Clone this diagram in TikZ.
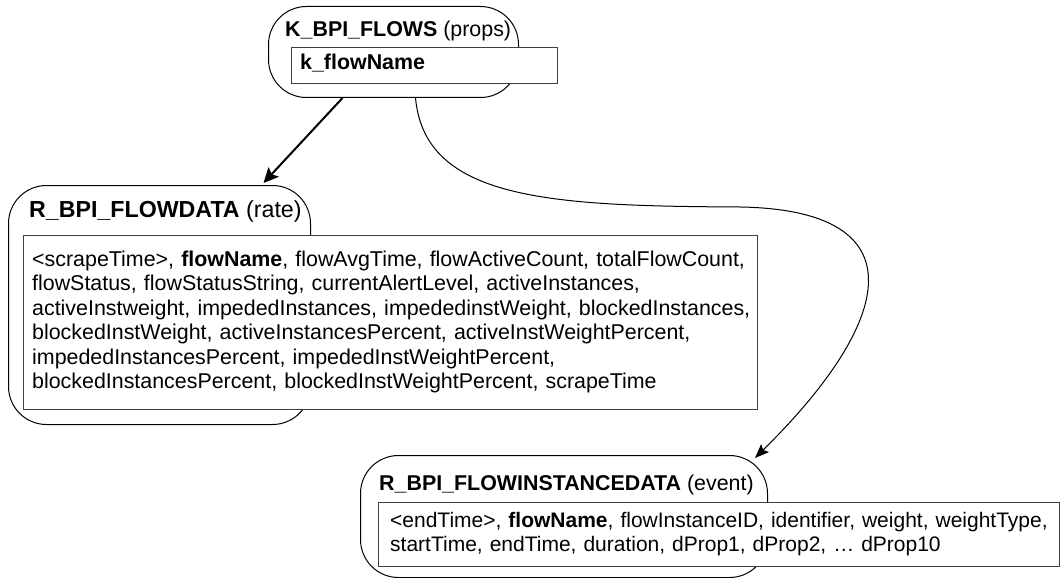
\documentclass[tikz,border=0pt]{standalone}
\usepackage{fontspec}
\setmainfont{Liberation Sans}
\usetikzlibrary{arrows.meta}
\begin{document}
\begin{tikzpicture}[x=1pt, y=-1pt,
  every node/.append style={font=\fontsize{21.4pt}{24.5pt}\selectfont},
  shell/.style={draw=black, line width=1pt, fill=white, rounded corners=38pt,
                inner sep=0pt, anchor=north west},
  fieldbox/.style={draw=black!75, line width=1pt, fill=white, inner sep=0pt,
                   anchor=north west},
  title/.style={anchor=base west, inner sep=0pt},
  bigtitle/.style={title, font=\fontsize{23.2pt}{26pt}\selectfont},
  fields/.style={anchor=base west, inner sep=0pt, align=left, text width=#1},
  link/.style={line width=1pt, -{Stealth[length=14pt,width=11pt,inset=2.5pt]}},
  boldlink/.style={line width=2pt, -{Stealth[length=15pt,width=14pt,inset=3pt]}}
]
\useasboundingbox[fill=white] (0,0) rectangle (1061,578);

% K_BPI_FLOWS
\node[shell, minimum width=250pt, minimum height=91pt] (kflows) at (268,6) {};
\node[fieldbox, minimum width=266pt, minimum height=36pt] (kbox) at (291,47) {};
\node[title] (khead) at (285,37) {\textbf{K\_BPI\_FLOWS} (props)};
\node[title] (kfield) at (300,70) {\textbf{k\_flowName}};

% R_BPI_FLOWDATA
\node[shell, minimum width=302pt, minimum height=239pt] (flowdata) at (8,185) {};
\node[fieldbox, minimum width=734pt, minimum height=174pt] (fdbox) at (23,235) {};
\node[bigtitle] (fdhead) at (29,217) {\textbf{R\_BPI\_FLOWDATA} (rate)};
\node[fields=740pt] (fdfields) at (32,266) {%
<scrapeTime>, \textbf{flowName}, flowAvgTime, flowActiveCount, totalFlowCount,\\
flowStatus, flowStatusString, currentAlertLevel, activeInstances,\\
activeInstweight, impededInstances, impededinstWeight, blockedInstances,\\
blockedInstWeight, activeInstancesPercent, activeInstWeightPercent,\\
impededInstancesPercent, impededInstWeightPercent,\\
blockedInstancesPercent, blockedInstWeightPercent, scrapeTime};

% R_BPI_FLOWINSTANCEDATA
\node[shell, minimum width=407pt, minimum height=122pt] (event) at (360,455) {};
\node[fieldbox, minimum width=681pt, minimum height=64pt] (evbox) at (378,502) {};
\node[title] (evhead) at (379,490) {\textbf{R\_BPI\_FLOWINSTANCEDATA} (event)};
\node[fields=680pt, font=\fontsize{21pt}{24pt}\selectfont] (evfields) at (390,527) {%
<endTime>, \textbf{flowName}, flowInstanceID, identifier, weight, weightType,\\
startTime, endTime, duration, dProp1, dProp2, … dProp10};

% relations
\draw[boldlink] ([xshift=-51pt]kflows.south) -- ([xshift=104pt,yshift=2pt]flowdata.north);
\draw[link] ([xshift=22pt]kflows.south)
  .. controls (425,200) and (550,206) .. (740,207)
  .. controls (920,210) and (895,320) .. ([xshift=-13pt,yshift=-3pt]event.north east);
\end{tikzpicture}
\end{document}
